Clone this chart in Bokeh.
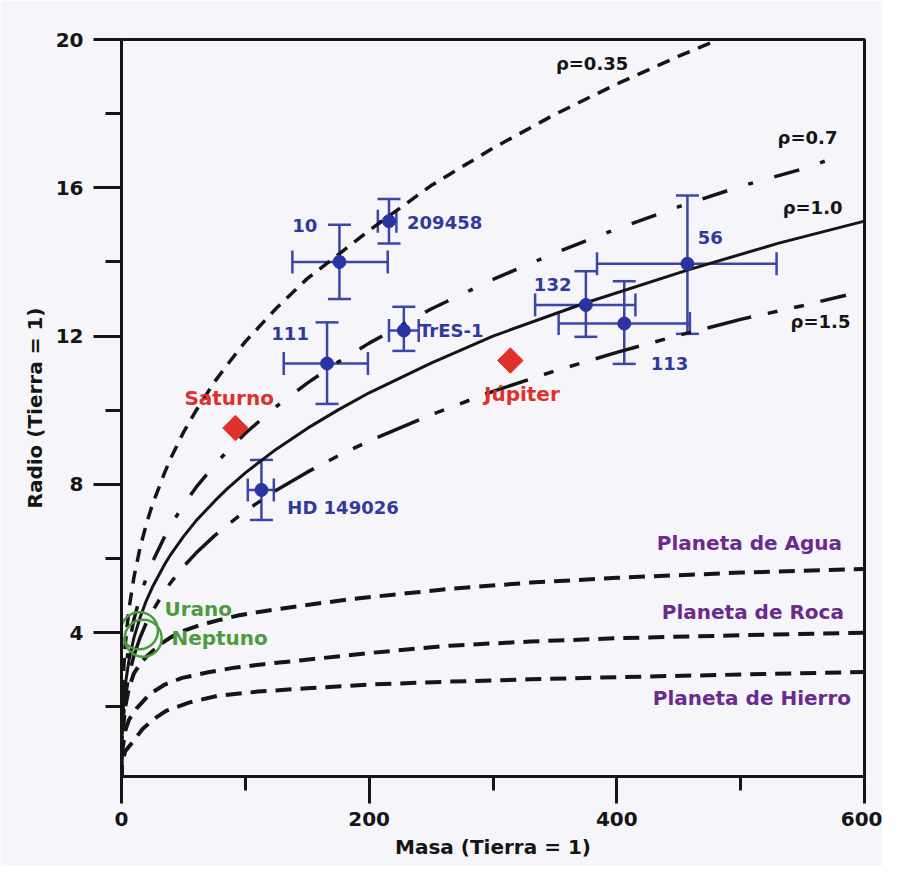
from bokeh.plotting import figure
from bokeh.models import ColumnDataSource, Whisker, TeeHead, FixedTicker, Range1d
from bokeh.core.properties import value
from bokeh.embed import file_html
from bokeh.resources import INLINE

# ---------------- data ----------------
# exoplanets (mass, radius in Earth units) with error ranges
planet_names = ["10", "209458", "111", "TrES-1", "132", "56", "113", "HD 149026"]
planet_mass = [176, 216, 166, 228, 375, 457, 406, 113]
planet_mass_lo = [138, 207, 131, 216, 334, 384, 353, 102]
planet_mass_hi = [215, 222, 199, 240, 415, 529, 459, 123]
planet_radius = [14.0, 15.1, 11.26, 12.15, 12.84, 13.95, 12.34, 7.85]
planet_radius_lo = [13.0, 14.5, 10.17, 11.6, 11.98, 12.06, 11.25, 7.04]
planet_radius_hi = [15.0, 15.7, 12.37, 12.79, 13.75, 15.79, 13.48, 8.66]

# Saturn / Jupiter
giant_names = ["Saturno", "Júpiter"]
giant_mass = [92, 314]
giant_radius = [9.52, 11.34]

# Uranus / Neptune
ice_names = ["Urano", "Neptuno"]
ice_mass = [14.5, 17.5]
ice_radius = [4.05, 3.85]

# constant density curves
rho035_mass = [0, 0.3, 1, 3, 6, 10, 15, 20, 25, 35, 40, 50, 60, 75, 85, 100, 125, 150, 175, 200, 250, 300, 350, 400, 450, 500]
rho035_radius = [0, 1.71, 2.55, 3.68, 4.63, 5.49, 6.29, 6.92, 7.46, 8.33, 8.72, 9.4, 9.98, 10.76, 11.21, 11.85, 12.75, 13.55, 14.2, 14.85, 16.06, 17.07, 17.98, 18.8, 19.55, 20.25]

rho07_mass = [0, 0.3, 1, 3, 6, 10, 15, 20, 25, 35, 40, 50, 60, 75, 85, 100, 125, 150, 175, 200, 250, 300, 350, 400, 450, 500, 550, 575]
rho07_radius = [0, 1.35, 2.02, 2.91, 3.67, 4.35, 4.98, 5.48, 5.91, 6.6, 6.91, 7.44, 7.91, 8.52, 8.88, 9.38, 10.1, 10.73, 11.3, 11.81, 12.73, 13.53, 14.24, 14.89, 15.49, 16.04, 16.51, 16.8]

rho10_mass = [0, 0.3, 1, 3, 6, 10, 15, 20, 25, 35, 40, 50, 60, 75, 85, 100, 125, 150, 175, 200, 250, 300, 375, 457, 530, 600]
rho10_radius = [0, 1.2, 1.79, 2.58, 3.25, 3.86, 4.41, 4.86, 5.23, 5.85, 6.12, 6.59, 7.01, 7.54, 7.87, 8.31, 8.95, 9.51, 10.01, 10.47, 11.27, 12.0, 12.9, 13.78, 14.5, 15.1]

rho15_mass = [0, 0.3, 1, 3, 6, 10, 15, 20, 25, 35, 40, 50, 60, 75, 85, 100, 125, 150, 175, 200, 250, 300, 350, 400, 450, 500, 550, 585]
rho15_radius = [0, 1.05, 1.57, 2.26, 2.85, 3.38, 3.87, 4.26, 4.58, 5.13, 5.36, 5.78, 6.14, 6.61, 6.89, 7.28, 7.84, 8.33, 8.77, 9.17, 9.88, 10.51, 11.06, 11.56, 12.02, 12.45, 12.82, 13.1]

# composition curves
water_mass = [0, 0.5, 1, 3, 6, 10, 15, 20, 32, 40, 50, 63, 80, 95, 111, 144, 184, 230, 265, 330, 400, 500, 600]
water_radius = [0, 1.0, 1.3, 2.0, 2.5, 2.9, 3.15, 3.35, 3.7, 3.88, 4.05, 4.2, 4.35, 4.47, 4.56, 4.72, 4.9, 5.06, 5.18, 5.35, 5.48, 5.62, 5.72]
rock_mass = [0, 0.5, 1, 3, 6, 12, 23, 35, 49, 70, 90, 115, 144, 200, 265, 330, 400, 500, 600]
rock_radius = [0, 0.7, 0.9, 1.35, 1.65, 1.95, 2.35, 2.6, 2.78, 2.93, 3.05, 3.15, 3.25, 3.45, 3.65, 3.76, 3.85, 3.93, 4.0]
iron_mass = [0, 0.5, 1, 3, 9, 17, 26, 36, 55, 77, 110, 150, 200, 265, 330, 400, 500, 600]
iron_radius = [0, 0.45, 0.55, 0.8, 1.05, 1.4, 1.67, 1.89, 2.12, 2.29, 2.41, 2.5, 2.6, 2.68, 2.74, 2.8, 2.87, 2.94]

# tick values
x_ticks = [0, 200, 400, 600]
x_minor = [100, 300, 500]
y_ticks = [4, 8, 12, 16, 20]
y_minor = [2, 6, 10, 14, 18]

# annotation texts and their anchors
planet_label_x = [137.9, 230.6, 121, 240.3, 333, 465.3, 427.4, 133.9]
planet_label_y = [14.98, 15.06, 12.06, 12.15, 13.39, 14.66, 11.25, 7.37]
giant_label_x = [50.8, 292.7]
giant_label_y = [10.34, 10.45]
ice_label_x = [34.7, 40.3]
ice_label_y = [4.64, 3.86]
comp_names = ["Planeta de Agua", "Planeta de Roca", "Planeta de Hierro"]
comp_label_x = [432.3, 436.3, 429]
comp_label_y = [6.42, 4.56, 2.24]
rho_names = ["ρ=0.35", "ρ=0.7", "ρ=1.0", "ρ=1.5"]
rho_label_x = [350.8, 529.8, 533.9, 540.3]
rho_label_y = [19.35, 17.35, 15.47, 12.39]

# ---------------- styling ----------------
FONT = "DejaVu Sans"
BLACK = "#151515"
BLUE = "#2f3a9c"
BLUE_LINE = "#3a46a8"
RED = "#e0302c"
PURPLE = "#6a2b8e"
GREEN = "#4e9a3e"
BG = "#f6f5fa"

p = figure(width=882, height=866,
           x_range=Range1d(0, 600), y_range=Range1d(0.12, 20),
           output_backend="svg", toolbar_location=None,
           min_border_left=121, min_border_right=18,
           min_border_top=39, min_border_bottom=90)
p.background_fill_color = BG
p.border_fill_color = BG
p.outline_line_color = BLACK
p.outline_line_width = 3
p.grid.visible = False

p.xaxis.ticker = FixedTicker(ticks=x_ticks, minor_ticks=x_minor)
p.yaxis.ticker = FixedTicker(ticks=y_ticks, minor_ticks=y_minor)
for ax in (p.xaxis, p.yaxis):
    ax.axis_line_width = 3
    ax.axis_line_color = BLACK
    ax.major_tick_line_width = 3
    ax.minor_tick_line_width = 3
    ax.major_tick_line_color = BLACK
    ax.minor_tick_line_color = BLACK
    ax.major_tick_in = 0
    ax.minor_tick_in = 0
    ax.major_label_text_font = FONT
    ax.major_label_text_font_style = "bold"
    ax.major_label_text_font_size = "20px"
    ax.major_label_text_color = BLACK
    ax.axis_label_text_font = FONT
    ax.axis_label_text_font_style = "bold"
    ax.axis_label_text_font_size = "20px"
    ax.axis_label_text_color = BLACK
p.xaxis.major_tick_out = 27
p.xaxis.minor_tick_out = 14
p.yaxis.major_tick_out = 28
p.yaxis.minor_tick_out = 16
p.xaxis.major_label_standoff = 8
p.yaxis.major_label_standoff = 10
p.xaxis.axis_label = "Masa (Tierra = 1)"
p.yaxis.axis_label = "Radio (Tierra = 1)"
p.xaxis.axis_label_standoff = 6
p.yaxis.axis_label_standoff = 6

# ---------------- curves ----------------
p.line(rho035_mass, rho035_radius, line_color=BLACK, line_width=3.5, line_dash="13 9")
p.line(rho07_mass, rho07_radius, line_color=BLACK, line_width=3.5, line_dash="26 22 5 22")
p.line(rho10_mass, rho10_radius, line_color=BLACK, line_width=3)
p.line(rho15_mass, rho15_radius, line_color=BLACK, line_width=3.5, line_dash="45 17 10 17 10 17")
for cm, cr in ((water_mass, water_radius), (rock_mass, rock_radius), (iron_mass, iron_radius)):
    p.line(cm, cr, line_color=BLACK, line_width=4, line_dash="16 9")

# ---------------- exoplanets ----------------
src = ColumnDataSource(dict(m=planet_mass, r=planet_radius,
                            mlo=planet_mass_lo, mhi=planet_mass_hi,
                            rlo=planet_radius_lo, rhi=planet_radius_hi))
def head():
    return TeeHead(size=23, line_color=BLUE_LINE, line_width=2.5)
p.add_layout(Whisker(source=src, base="m", lower="rlo", upper="rhi", dimension="height",
                     line_color=BLUE_LINE, line_width=2.5, upper_head=head(), lower_head=head()))
p.add_layout(Whisker(source=src, base="r", lower="mlo", upper="mhi", dimension="width",
                     line_color=BLUE_LINE, line_width=2.5, upper_head=head(), lower_head=head()))
p.scatter("m", "r", source=src, size=13, color="#2a34a0")

# Saturn / Jupiter
p.scatter(giant_mass, giant_radius, marker="square", size=18, angle=0.785398,
          color=RED)
# Uranus / Neptune
p.scatter(ice_mass, ice_radius, marker="circle", size=37, fill_alpha=0,
          line_color=GREEN, line_width=2.5)

# ---------------- texts ----------------
def texts(xs, ys, labels, color, size):
    p.text(x=xs, y=ys, text=labels, text_color=color,
           text_font=value(FONT), text_font_style="bold",
           text_font_size=size, text_baseline="middle", text_align="left")

texts(planet_label_x, planet_label_y, planet_names, BLUE, "18px")
texts(giant_label_x, giant_label_y, giant_names, RED, "20px")
texts(ice_label_x, ice_label_y, ice_names, GREEN, "20px")
texts(comp_label_x, comp_label_y, comp_names, PURPLE, "20px")
texts(rho_label_x, rho_label_y, rho_names, BLACK, "18px")

open("out.html", "w").write(file_html(p, INLINE))
